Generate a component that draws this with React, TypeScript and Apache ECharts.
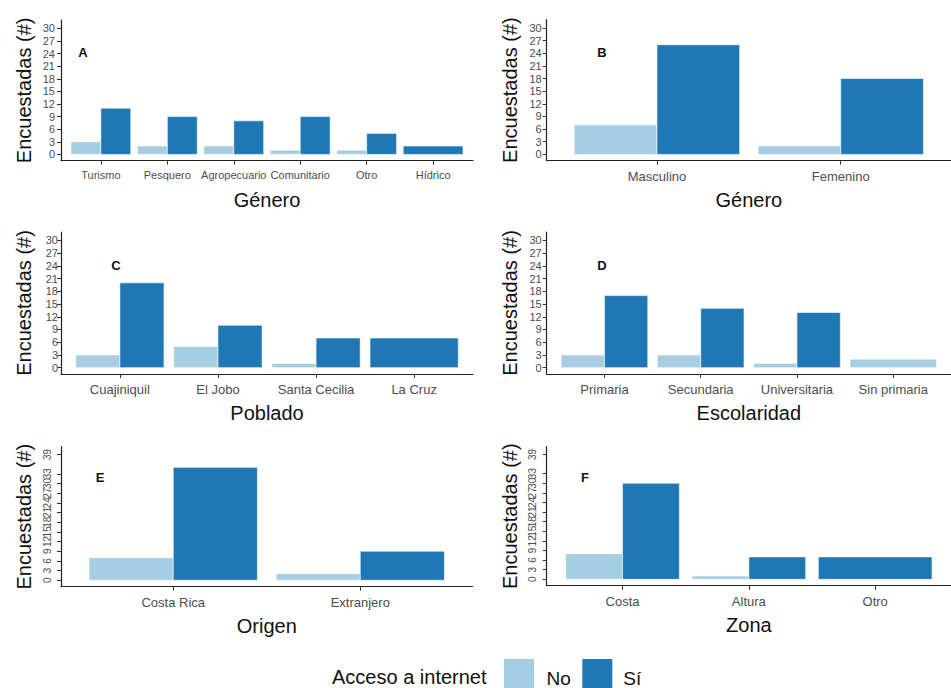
import React, { useEffect, useRef } from "react";
import * as echarts from "echarts";

// ---------- data ----------
const catsA = ["Turismo", "Pesquero", "Agropecuario", "Comunitario", "Otro", "Hídrico"];
const noA = [3, 2, 2, 1, 1, null];
const siA = [11, 9, 8, 9, 5, 2];

const catsB = ["Masculino", "Femenino"];
const noB = [7, 2];
const siB = [26, 18];

const catsC = ["Cuajiniquil", "El Jobo", "Santa Cecilia", "La Cruz"];
const noC = [3, 5, 1, null];
const siC = [20, 10, 7, 7];

const catsD = ["Primaria", "Secundaria", "Universitaria", "Sin primaria"];
const noD = [3, 3, 1, 2];
const siD = [17, 14, 13, null];

const catsE = ["Costa Rica", "Extranjero"];
const noE = [7, 2];
const siE = [35, 9];

const catsF = ["Costa", "Altura", "Otro"];
const noF = [8, 1, null];
const siF = [30, 7, 7];

const xTitles = ["Género", "Género", "Poblado", "Escolaridad", "Origen", "Zona"];
const letters = ["A", "B", "C", "D", "E", "F"];
const ticks30 = [0, 3, 6, 9, 12, 15, 18, 21, 24, 27, 30];
const ticks39 = [0, 3, 6, 9, 12, 15, 18, 21, 24, 27, 30, 33, 36, 39];
const yTitle = "Encuestadas (#)";
const seriesNames = ["No", "Sí"];
const legendTitle = "Acceso a internet";

const COLOR_NO = "#A6CEE3";
const COLOR_SI = "#1F78B4";
const FONT = "Liberation Sans, Arial, sans-serif";

const panelData = [
  { cats: catsA, no: noA, si: siA, ticks: ticks30 },
  { cats: catsB, no: noB, si: siB, ticks: ticks30 },
  { cats: catsC, no: noC, si: siC, ticks: ticks30 },
  { cats: catsD, no: noD, si: siD, ticks: ticks30 },
  { cats: catsE, no: noE, si: siE, ticks: ticks39 },
  { cats: catsF, no: noF, si: siF, ticks: ticks39 },
];

// ---------- layout ----------
const layouts = [
  { left: 61, top: 20, width: 412, height: 140.7, yMin: -1.5, yMax: 32, xFont: 11, yFont: 11, yRot: 0, yMargin: 6, lx: 83, ly: 52 },
  { left: 546.7, top: 19.5, width: 413, height: 141.2, yMin: -1.5, yMax: 32, xFont: 13, yFont: 11, yRot: 0, yMargin: 5, lx: 602, ly: 52 },
  { left: 61, top: 232, width: 412, height: 142, yMin: -1.5, yMax: 32, xFont: 13, yFont: 11, yRot: 0, yMargin: 3, lx: 116, ly: 265 },
  { left: 546.7, top: 232, width: 413, height: 142, yMin: -1.5, yMax: 32, xFont: 13, yFont: 11, yRot: 0, yMargin: 5, lx: 602, ly: 265 },
  { left: 61, top: 446.7, width: 411.5, height: 140, yMin: -2, yMax: 41.4, xFont: 13, yFont: 10, yRot: 90, yMargin: 9, lx: 100, ly: 477 },
  { left: 546.7, top: 446.7, width: 415, height: 139, yMin: -2, yMax: 41.4, xFont: 13, yFont: 10, yRot: 90, yMargin: 9, lx: 585, ly: 477 },
];

function renderBar(params: any, api: any) {
  const xc = api.value(0);
  const v = api.value(1);
  const pos = api.value(2);
  const half = 0.45;
  let x0 = xc - half;
  let x1 = xc + half;
  if (pos < 0) x1 = xc;
  if (pos > 0) x0 = xc;
  const p0 = api.coord([x0, 0]);
  const p1 = api.coord([x1, v]);
  return {
    type: "rect",
    shape: { x: p0[0], y: p1[1], width: p1[0] - p0[0], height: p0[1] - p1[1] },
    style: { fill: api.visual("color"), stroke: "#ffffff", lineWidth: 0.6 },
  };
}

function buildOption() {
  const grid: any[] = [];
  const xAxis: any[] = [];
  const yAxis: any[] = [];
  const series: any[] = [];
  const graphic: any[] = [];

  panelData.forEach((p, i) => {
    const L = layouts[i];
    const n = p.cats.length;
    const idx = p.cats.map((_, k) => k + 1);
    grid.push({ left: L.left, top: L.top, width: L.width, height: L.height, containLabel: false });
    xAxis.push({
      type: "value",
      gridIndex: i,
      min: 0.4,
      max: n + 0.6,
      splitLine: { show: false },
      axisLine: { show: true, onZero: false, lineStyle: { color: "#222", width: 1.2 } },
      axisTick: { show: true, customValues: idx, length: 4, lineStyle: { color: "#333", width: 1 } },
      axisLabel: {
        customValues: idx,
        formatter: (v: number) => p.cats[Math.round(v) - 1] ?? "",
        fontSize: L.xFont,
        fontFamily: FONT,
        color: "#4d4d4d",
        margin: 9,
      },
      name: xTitles[i],
      nameLocation: "middle",
      nameGap: 29,
      nameTextStyle: { fontSize: 20, fontFamily: FONT, color: "#111" },
    });
    const yLabel: any = {
      customValues: p.ticks,
      fontSize: L.yFont,
      fontFamily: FONT,
      color: "#4d4d4d",
      margin: L.yMargin,
      lineHeight: L.yFont,
      showMinLabel: true,
      showMaxLabel: true,
    };
    if (L.yRot) {
      yLabel.rotate = L.yRot;
      yLabel.align = "center";
      yLabel.verticalAlign = "bottom";
    }
    yAxis.push({
      type: "value",
      gridIndex: i,
      min: L.yMin,
      max: L.yMax,
      splitLine: { show: false },
      axisLine: { show: true, onZero: false, lineStyle: { color: "#222", width: 1.2 } },
      axisTick: { show: true, customValues: p.ticks, length: 4, lineStyle: { color: "#333", width: 1 } },
      axisLabel: yLabel,
      name: yTitle,
      nameLocation: "middle",
      nameGap: 27,
      nameTextStyle: { fontSize: 20, fontFamily: FONT, color: "#111" },
    });
    const noData: any[] = [];
    const siData: any[] = [];
    p.cats.forEach((_, k) => {
      const a = p.no[k];
      const b = p.si[k];
      if (a != null) noData.push([k + 1, a, b != null ? -1 : 0]);
      if (b != null) siData.push([k + 1, b, a != null ? 1 : 0]);
    });
    series.push({
      type: "custom",
      name: seriesNames[0],
      xAxisIndex: i,
      yAxisIndex: i,
      itemStyle: { color: COLOR_NO },
      renderItem: renderBar,
      encode: { x: 0, y: 1 },
      data: noData,
    });
    series.push({
      type: "custom",
      name: seriesNames[1],
      xAxisIndex: i,
      yAxisIndex: i,
      itemStyle: { color: COLOR_SI },
      renderItem: renderBar,
      encode: { x: 0, y: 1 },
      data: siData,
    });
    graphic.push({
      type: "text",
      x: L.lx,
      y: L.ly,
      style: {
        text: letters[i],
        fontSize: 13,
        fontWeight: "bold",
        fontFamily: FONT,
        fill: "#111",
        align: "center",
        verticalAlign: "middle",
      },
    });
  });

  // legend (drawn as graphic to match position)
  graphic.push({
    type: "text",
    x: 332,
    y: 677,
    style: { text: legendTitle, fontSize: 20, fontFamily: FONT, fill: "#111", verticalAlign: "middle" },
  });
  graphic.push({ type: "rect", shape: { x: 504, y: 659, width: 30, height: 30 }, style: { fill: COLOR_NO } });
  graphic.push({
    type: "text",
    x: 546.5,
    y: 678,
    style: { text: seriesNames[0], fontSize: 19, fontFamily: FONT, fill: "#111", verticalAlign: "middle" },
  });
  graphic.push({ type: "rect", shape: { x: 582.3, y: 659, width: 30, height: 30 }, style: { fill: COLOR_SI } });
  graphic.push({
    type: "text",
    x: 623.3,
    y: 678,
    style: { text: seriesNames[1], fontSize: 19, fontFamily: FONT, fill: "#111", verticalAlign: "middle" },
  });

  return {
    animation: false,
    backgroundColor: "#ffffff",
    textStyle: { fontFamily: FONT },
    grid,
    xAxis,
    yAxis,
    series,
    graphic,
  };
}

export default function App() {
  const ref = useRef<HTMLDivElement>(null);
  useEffect(() => {
    if (!ref.current) return;
    const chart = echarts.init(ref.current, undefined, { renderer: "svg" });
    chart.setOption(buildOption() as any);
    return () => chart.dispose();
  }, []);
  return (
    <div
      ref={ref}
      style={{ position: "fixed", left: 0, top: 0, width: 951, height: 688, background: "#fff" }}
    />
  );
}
